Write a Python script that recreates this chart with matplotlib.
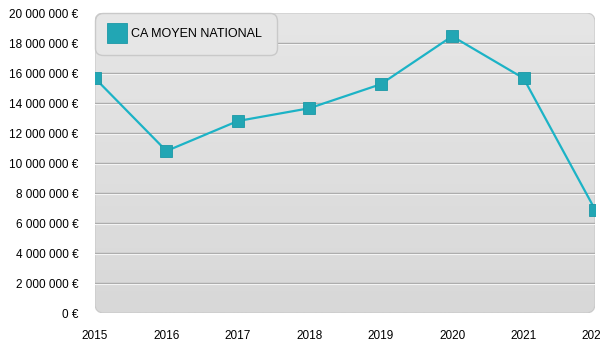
import matplotlib
matplotlib.use("Agg")
import matplotlib.pyplot as plt
import numpy as np
from matplotlib.patches import FancyBboxPatch
from matplotlib.ticker import FuncFormatter

plt.rcParams['font.family'] = ['Liberation Sans', 'DejaVu Sans']

# data
years = [2015, 2016, 2017, 2018, 2019, 2020, 2021, 2022]
ca_moyen = [15.65e6, 10.8e6, 12.8e6, 13.65e6, 15.25e6, 18.45e6, 15.65e6, 6.9e6]
series_label = "CA MOYEN NATIONAL"
y_ticks = list(range(0, 20000001, 2000000))

LINE = '#1cb3c6'
MARK = '#22a6b4'

fig = plt.figure(figsize=(6, 3.5), dpi=100)
ax = fig.add_axes([95 / 600, 37 / 350, 500 / 600, 300 / 350])
ax.set_xlim(2015, 2022)
ax.set_ylim(0, 20000000)

# rounded panel with a soft vertical gradient
panel = FancyBboxPatch((0, 0), 1, 1, boxstyle="round,pad=0,rounding_size=0.018",
                       mutation_aspect=500 / 300, transform=ax.transAxes,
                       facecolor='none', edgecolor='#c8c8c8', lw=0.8, zorder=0.5)
ax.add_patch(panel)
grad = np.linspace(0, 1, 256).reshape(-1, 1)
img = ax.imshow(grad, extent=[0, 1, 0, 1], transform=ax.transAxes, aspect='auto',
                cmap=matplotlib.colors.LinearSegmentedColormap.from_list(
                    'bg', ['#e6e6e6', '#d8d8d8']), zorder=0.2)
img.set_clip_path(panel)
for s in ax.spines.values():
    s.set_visible(False)
ax.patch.set_visible(False)

# embossed grid lines
for v in y_ticks[1:-1]:
    ax.axhline(v, color='#a9a9a9', lw=1.0, zorder=1)
    ax.axhline(v - 90000, color='#f4f4f4', lw=0.8, zorder=1)

ax.plot(years, ca_moyen, color=LINE, lw=1.6, zorder=3,
        marker='s', markersize=8.5, markerfacecolor=MARK, markeredgecolor='#1b98a6',
        markeredgewidth=0.6, label=series_label)

ax.set_xticks(years)
ax.set_yticks(y_ticks)
ax.yaxis.set_major_formatter(FuncFormatter(lambda v, p: f"{int(v):,}".replace(',', ' ') + " €"))
ax.tick_params(axis='both', length=0, labelsize=8.5, colors='black')
ax.tick_params(axis='y', pad=12)
ax.tick_params(axis='x', pad=12)

leg = ax.legend(loc='upper left', bbox_to_anchor=(0, 1), borderaxespad=0,
                fancybox=True, framealpha=1, facecolor='#e6e6e6', edgecolor='#c9c9c9',
                fontsize=9, handlelength=1.1, handletextpad=0.6, borderpad=1.2,
                markerscale=1.7)
leg.get_frame().set_boxstyle("round,pad=0,rounding_size=0.6")
for h in leg.legend_handles:
    h.set_linestyle('none')
leg.set_zorder(5)

fig.savefig("out.png", dpi=100)
